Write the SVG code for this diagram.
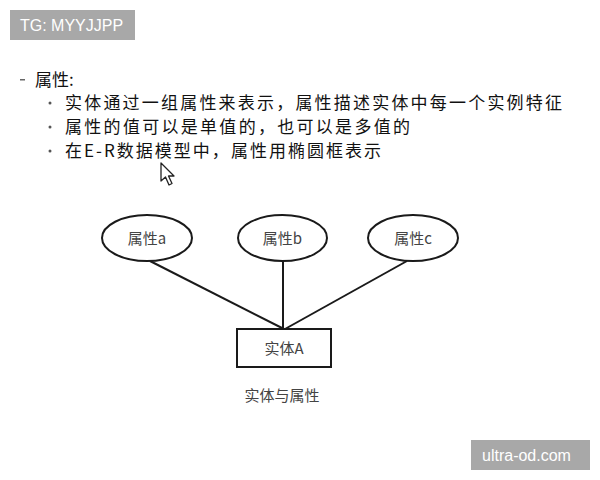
<svg xmlns="http://www.w3.org/2000/svg" width="600" height="480" viewBox="0 0 600 480">
  <style>
    .cjk { font-family: "Noto Sans CJK SC", "Liberation Sans", sans-serif; }
    .body { font-size: 17px; fill: #111; }
    .lbl { font-size: 15px; fill: #444; text-anchor: middle; }
    .shape { fill: #fff; stroke: #1a1a1a; stroke-width: 2; }
    .conn line { stroke: #1a1a1a; stroke-width: 2; }
    .badge rect { fill: #a8a8a8; }
    .badge text { font-family: "Liberation Sans", Arial, sans-serif; font-size: 16px; fill: #fff; }
  </style>
  <rect width="600" height="480" fill="#fff"/>

  <g class="badge" id="badge-tg">
    <rect x="10" y="10" width="125" height="30"/>
    <text x="20" y="31">TG: MYYJJPP</text>
  </g>

  <g class="cjk body" id="text-block">
    <rect x="20" y="79" width="5" height="1.5" fill="#666"/>
    <text x="35" y="86">属性:</text>
    <circle cx="50" cy="103" r="1.5" fill="#555"/>
    <text x="65" y="109" textLength="497" lengthAdjust="spacing">实体通过一组属性来表示，属性描述实体中每一个实例特征</text>
    <circle cx="50" cy="127" r="1.5" fill="#555"/>
    <text x="65" y="133" textLength="345" lengthAdjust="spacing">属性的值可以是单值的，也可以是多值的</text>
    <circle cx="50" cy="151" r="1.5" fill="#555"/>
    <text x="65" y="157" textLength="316" lengthAdjust="spacing">在E-R数据模型中，属性用椭圆框表示</text>
  </g>

  <g id="cursor">
    <polygon points="161,163 161,181 165.5,177 169,185 172,183.5 168.5,176 174,176" fill="#fff" stroke="#222" stroke-width="1.3" stroke-linejoin="round"/>
  </g>

  <g class="conn" id="connectors">
    <line x1="150" y1="261" x2="284" y2="329"/>
    <line x1="283" y1="261" x2="283" y2="329"/>
    <line x1="407" y1="261" x2="285" y2="329"/>
  </g>

  <g id="attr-a">
    <ellipse class="shape" cx="147" cy="238" rx="45" ry="23"/>
    <text class="cjk lbl" x="147" y="244">属性a</text>
  </g>
  <g id="attr-b">
    <ellipse class="shape" cx="282.5" cy="238" rx="44.5" ry="23"/>
    <text class="cjk lbl" x="282.5" y="244">属性b</text>
  </g>
  <g id="attr-c">
    <ellipse class="shape" cx="413" cy="238" rx="45" ry="23"/>
    <text class="cjk lbl" x="413" y="244">属性c</text>
  </g>
  <g id="entity-a">
    <rect class="shape" x="237" y="329" width="94" height="38"/>
    <text class="cjk lbl" x="284" y="354">实体A</text>
  </g>

  <text class="cjk" x="282" y="401" font-size="15" fill="#444" text-anchor="middle">实体与属性</text>

  <g class="badge" id="badge-url">
    <rect x="471" y="440" width="119" height="30"/>
    <text x="482" y="461">ultra-od.com</text>
  </g>
</svg>
